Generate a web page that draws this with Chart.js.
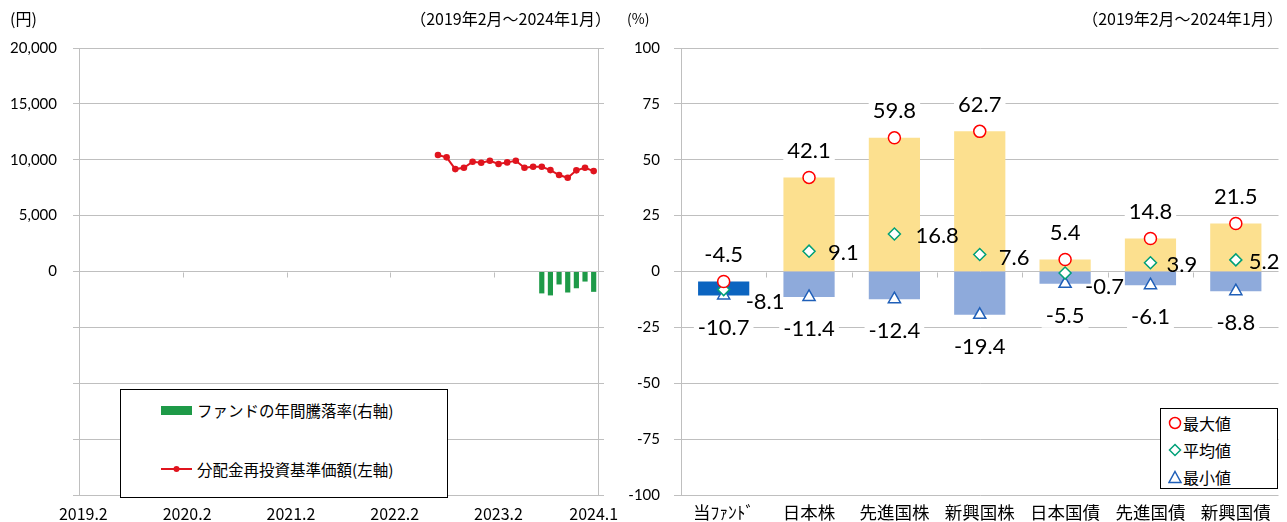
<!DOCTYPE html>
<html><head><meta charset="utf-8">
<script src="https://cdn.jsdelivr.net/npm/chart.js@4.4.1/dist/chart.umd.min.js"></script>
<style>
html,body{margin:0;padding:0;background:#fff;}
body{width:1287px;height:522px;position:relative;overflow:hidden;font-family:"Noto Sans CJK JP",sans-serif;color:#000;}
canvas{position:absolute;top:0;}
#c1{left:0;}
#c2{left:615px;}
.t{position:absolute;font-size:16px;line-height:20px;white-space:nowrap;}
.box{position:absolute;border:1px solid #000;background:#fff;box-sizing:border-box;}
.lt{position:absolute;font-size:15.5px;line-height:20px;white-space:nowrap;}
.sym{position:absolute;}
</style></head>
<body>
<canvas id="c1" width="640" height="522" style="width:640px;height:522px"></canvas>
<canvas id="c2" width="672" height="522" style="width:672px;height:522px"></canvas>

<div class="t" style="left:10px;top:8px;">(円)</div>
<div class="t" style="right:676px;top:8px;">（2019年2月～2024年1月）</div>
<div class="t" style="left:627px;top:8px;font-size:14px;">(%)</div>
<div class="t" style="right:4px;top:8px;">（2019年2月～2024年1月）</div>

<div class="box" style="left:120px;top:389px;width:328px;height:109px;">
  <div class="sym" style="left:40px;top:16px;width:31px;height:9px;background:#1E9A48"></div>
  <div class="lt" style="left:76px;top:10px">ファンドの年間騰落率(右軸)</div>
  <svg class="sym" style="left:40px;top:74px" width="31" height="10"><line x1="0" y1="5" x2="31" y2="5" stroke="#E0141E" stroke-width="2"/><circle cx="15.5" cy="5" r="3" fill="#E0141E"/></svg>
  <div class="lt" style="left:76px;top:69px">分配金再投資基準価額(左軸)</div>
</div>

<div class="box" style="left:1160px;top:408px;width:118px;height:81px;">
  <svg class="sym" style="left:7px;top:7px" width="14" height="14"><circle cx="7" cy="7" r="5.5" fill="#fff" stroke="#FF0000" stroke-width="1.5"/></svg>
  <div class="lt" style="left:22px;top:4px;font-size:16px">最大値</div>
  <svg class="sym" style="left:7px;top:34px" width="14" height="14"><polygon points="7,1.5 12.5,7 7,12.5 1.5,7" fill="#fff" stroke="#00A078" stroke-width="1.5"/></svg>
  <div class="lt" style="left:22px;top:31px;font-size:16px">平均値</div>
  <svg class="sym" style="left:7px;top:61px" width="14" height="14"><polygon points="7,1.5 13,12.5 1,12.5" fill="#fff" stroke="#1F5FB8" stroke-width="1.5"/></svg>
  <div class="lt" style="left:22px;top:58px;font-size:16px">最小値</div>
</div>

<script>
// ---------- Left chart data ----------
const months = [
 '2019.2','2019.3','2019.4','2019.5','2019.6','2019.7','2019.8','2019.9','2019.10','2019.11','2019.12',
 '2020.1','2020.2','2020.3','2020.4','2020.5','2020.6','2020.7','2020.8','2020.9','2020.10','2020.11','2020.12',
 '2021.1','2021.2','2021.3','2021.4','2021.5','2021.6','2021.7','2021.8','2021.9','2021.10','2021.11','2021.12',
 '2022.1','2022.2','2022.3','2022.4','2022.5','2022.6','2022.7','2022.8','2022.9','2022.10','2022.11','2022.12',
 '2023.1','2023.2','2023.3','2023.4','2023.5','2023.6','2023.7','2023.8','2023.9','2023.10','2023.11','2023.12',
 '2024.1'];
const leftTickLabels = ['2019.2','2020.2','2021.2','2022.2','2023.2','2024.1'];
const navMonths = ['2022.7','2022.8','2022.9','2022.10','2022.11','2022.12','2023.1','2023.2','2023.3','2023.4',
 '2023.5','2023.6','2023.7','2023.8','2023.9','2023.10','2023.11','2023.12','2024.1'];
const navValues = [10420,10215,9165,9280,9820,9730,9910,9615,9765,9910,9280,9370,9370,9075,8630,8385,9050,9280,8985];
const returnMonths = ['2023.7','2023.8','2023.9','2023.10','2023.11','2023.12','2024.1'];
const returnValues = [-9.8,-10.7,-5.8,-9.4,-7.5,-4.5,-9.1];

// ---------- Right chart data ----------
const categories = ['当ﾌｧﾝﾄﾞ','日本株','先進国株','新興国株','日本国債','先進国債','新興国債'];
const maxValues = [-4.5,42.1,59.8,62.7,5.4,14.8,21.5];
const avgValues = [-8.1,9.1,16.8,7.6,-0.7,3.9,5.2];
const minValues = [-10.7,-11.4,-12.4,-19.4,-5.5,-6.1,-8.8];

const GRID = '#BFBFBF';

function zeroTicks(boundaries, yId, len){
  return {id:'zeroTicks', beforeDatasetsDraw(chart){
    const ctx = chart.ctx, xs = chart.scales.x, ys = chart.scales[yId];
    const y0 = Math.round(ys.getPixelForValue(0)) + 0.5;
    ctx.save(); ctx.strokeStyle = GRID; ctx.lineWidth = 1; ctx.beginPath();
    boundaries.forEach(i => {
      const px = Math.round((xs.getPixelForValue(i-1) + xs.getPixelForValue(i))/2) + 0.5;
      ctx.moveTo(px, y0); ctx.lineTo(px, y0 + len);
    });
    ctx.stroke(); ctx.restore();
  }};
}

const leftBoundaries = leftTickLabels.map(l => months.indexOf(l)).filter(i => i > 0 && i < months.length - 1);

new Chart(document.getElementById('c1'), {
  data: {
    labels: months,
    datasets: [
      {type:'bar', label:'ファンドの年間騰落率(右軸)', yAxisID:'y2',
       data: returnMonths.map((m,i)=>({x:m, y:returnValues[i]})),
       backgroundColor:'#1E9A48', barPercentage:0.6, categoryPercentage:1},
      {type:'line', label:'分配金再投資基準価額(左軸)', yAxisID:'y',
       data: navMonths.map((m,i)=>({x:m, y:navValues[i]})),
       borderColor:'#E0141E', backgroundColor:'#E0141E', borderWidth:2,
       pointRadius:3.3, pointBorderWidth:0, tension:0}
    ]
  },
  options: {
    responsive:false, animation:false, events:[],
    layout:{padding:{top:48, left:0, right:0, bottom:0}},
    plugins:{legend:{display:false}, tooltip:{enabled:false}},
    scales:{
      x:{type:'category', offset:true,
         grid:{display:false, drawTicks:false}, border:{display:false},
         ticks:{autoSkip:false, maxRotation:0, padding:9, color:'#000',
                font:{family:'Noto Sans CJK JP', size:16},
                callback(v){ const l = this.getLabelForValue(v); return leftTickLabels.includes(l) ? l : ''; }},
         afterFit(s){ s.height = 27; }},
      y:{position:'left', min:-20000, max:20000,
         ticks:{stepSize:5000, padding:16, color:'#000', font:{family:'Lato', size:15},
                callback:v => v >= 0 ? v.toLocaleString('en-US') : ''},
         grid:{color:GRID, tickLength:6, tickColor:GRID}, border:{color:GRID},
         afterFit(s){ s.width = 79; }},
      y2:{position:'right', min:-100, max:100,
         ticks:{stepSize:25, display:false},
         grid:{drawOnChartArea:false, color:GRID, tickLength:6}, border:{color:GRID},
         afterFit(s){ s.width = 42; }}
    }
  },
  plugins:[zeroTicks(leftBoundaries, 'y', 5)]
});

// ---------- Right chart ----------
const upperRange = categories.map((c,i) => maxValues[i] > 0 ? [Math.max(0, minValues[i]), maxValues[i]] : null);
const lowerRange = categories.map((c,i) => minValues[i] < 0 ? [minValues[i], Math.min(0, maxValues[i])] : null);
const lowerColors = categories.map((c,i) => i === 0 ? '#0B64C0' : '#8EAADB');

const avgDx = [22,19,21,19,20,16,13];
const avgDy = [12,2,2,3,14,2,2];

const valueLabels = {id:'valueLabels', afterDatasetsDraw(chart){
  const ctx = chart.ctx;
  ctx.save();
  ctx.font = '22px Lato';
  ctx.textBaseline = 'middle';
  const boxed = (txt, x, y) => {
    const w = ctx.measureText(txt).width;
    ctx.fillStyle = '#fff';
    ctx.fillRect(x - w/2 - 4, y - 12, w + 8, 24);
    ctx.fillStyle = '#000';
    ctx.textAlign = 'center';
    ctx.fillText(txt, x, y);
  };
  chart.getDatasetMeta(2).data.forEach((p,i) => boxed(maxValues[i].toFixed(1), p.x, p.y - 26.5));
  chart.getDatasetMeta(4).data.forEach((p,i) => boxed(minValues[i].toFixed(1), p.x, p.y + 32));
  ctx.fillStyle = '#000'; ctx.textAlign = 'left';
  chart.getDatasetMeta(3).data.forEach((p,i) => ctx.fillText(avgValues[i].toFixed(1), p.x + avgDx[i], p.y + avgDy[i]));
  ctx.restore();
}};

const rightBoundaries = categories.map((c,i) => i).filter(i => i > 0);

new Chart(document.getElementById('c2'), {
  data: {
    labels: categories,
    datasets: [
      {type:'bar', label:'上昇', data: upperRange, backgroundColor:'#FCE08F', grouped:false,
       categoryPercentage:0.6, barPercentage:1, order:5},
      {type:'bar', label:'下落', data: lowerRange, backgroundColor: lowerColors, grouped:false,
       categoryPercentage:0.6, barPercentage:1, order:4},
      {type:'line', label:'最大値', data: maxValues, showLine:false, pointStyle:'circle', pointRadius:6,
       pointBorderWidth:1.5, pointBorderColor:'#FF0000', pointBackgroundColor:'#fff', order:1},
      {type:'line', label:'平均値', data: avgValues, showLine:false, pointStyle:'rectRot', pointRadius:6,
       pointBorderWidth:1.5, pointBorderColor:'#00A078', pointBackgroundColor:'#fff', order:2},
      {type:'line', label:'最小値', data: minValues, showLine:false, pointStyle:'triangle', pointRadius:7,
       pointBorderWidth:1.5, pointBorderColor:'#1F5FB8', pointBackgroundColor:'#fff', order:3}
    ]
  },
  options: {
    responsive:false, animation:false, events:[],
    layout:{padding:{top:48, left:0, right:2, bottom:0}},
    plugins:{legend:{display:false}, tooltip:{enabled:false}},
    scales:{
      x:{type:'category', offset:true,
         grid:{display:false, drawTicks:false}, border:{display:false},
         ticks:{autoSkip:false, maxRotation:0, padding:7, color:'#000',
                font:{family:'Noto Sans CJK JP', size:17.5}},
         afterFit(s){ s.height = 27; }},
      y:{position:'left', min:-100, max:100,
         ticks:{stepSize:25, padding:14, color:'#000', font:{family:'Lato', size:15}},
         grid:{color:GRID, tickLength:7, tickColor:GRID}, border:{color:GRID},
         afterFit(s){ s.width = 66; }}
    }
  },
  plugins:[zeroTicks(rightBoundaries, 'y', 5), valueLabels]
});
</script>
</body></html>
